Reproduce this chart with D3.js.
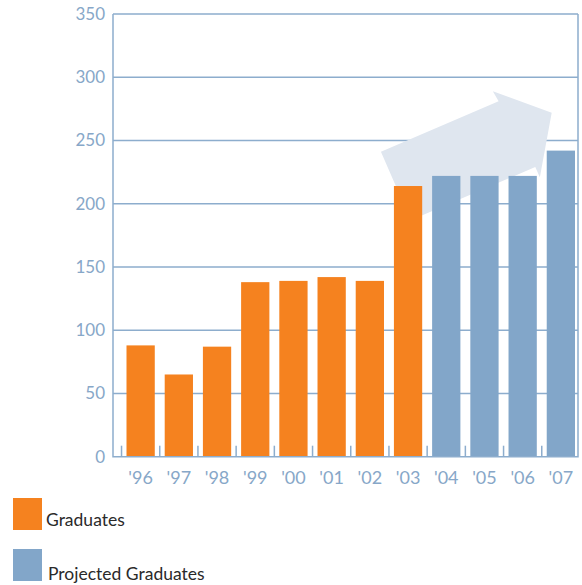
<!DOCTYPE html>
<html lang="en">
<head>
<meta charset="UTF-8"/>
<title>Graduates</title>
<script src="https://d3js.org/d3.v7.min.js"></script>
<style>
  body { margin: 0; background: #fff; }
  .grid line, .frame { stroke: #8dadcd; stroke-width: 1.5; fill: none; }
  .tickLabel { fill: #87a7c8; font-family: "Lato", sans-serif; font-size: 17px; }
  .xl { font-size: 18px; }
  .legend text { fill: #2a2a2a; font-family: "Lato", sans-serif; font-size: 17.5px; }
</style>
</head>
<body>
<div id="chart"></div>
<script>
var w = 582, h = 585;

// data
var years = ["'96", "'97", "'98", "'99", "'00", "'01", "'02", "'03", "'04", "'05", "'06", "'07"];
var values = [88, 65, 87, 138, 139, 142, 139, 214, 222, 222, 222, 242];
var projected = [false, false, false, false, false, false, false, false, true, true, true, true];
var yTicks = [0, 50, 100, 150, 200, 250, 300, 350];
var legendLabels = ["Graduates", "Projected Graduates"];
// trend arrow outline, in (band index, value) units
var arrowIdx = [6.79, 9.87, 9.72, 11.26, 10.95, 10.83, 7.57];
var arrowVal = [241, 281, 289, 272, 221, 229, 187];

var orange = "#f5821f", blue = "#82a6c9";

var x = d3.scaleBand().domain(years).range([126.5, 575]).paddingInner(0.26).paddingOuter(0);
var y = d3.scaleLinear().domain([0, 350]).range([456.7, 14]);
var left = 113, right = 578;

var svg = d3.select("#chart").append("svg").attr("width", w).attr("height", h);

// grid lines
svg.append("g").attr("class", "grid")
  .selectAll("line").data(yTicks.slice(1)).enter().append("line")
  .attr("x1", left).attr("x2", right)
  .attr("y1", function(d) { return y(d); })
  .attr("y2", function(d) { return y(d); });

// arrow behind bars
var step = x.step(), gap = x.step() - x.bandwidth();
var tick0 = x(years[0]) - gap / 2;
svg.append("polygon")
  .attr("points", arrowIdx.map(function(d, i) {
    return (tick0 + d * step) + "," + y(arrowVal[i]);
  }).join(" "))
  .attr("fill", "#dfe6ef");

// bars
svg.selectAll("rect.bar").data(values).enter().append("rect")
  .attr("class", "bar")
  .attr("x", function(d, i) { return x(years[i]); })
  .attr("y", function(d) { return y(d); })
  .attr("width", x.bandwidth())
  .attr("height", function(d) { return y(0) - y(d); })
  .attr("fill", function(d, i) { return projected[i] ? blue : orange; });

// frame: y axis, baseline, right edge
svg.append("path").attr("class", "frame")
  .attr("d", "M" + left + "," + y(350) + "V" + y(0) + "H" + right + "V" + y(350));

// small x ticks
svg.append("g").attr("class", "grid")
  .selectAll("line").data(years).enter().append("line")
  .attr("x1", function(d) { return x(d) - gap / 2; })
  .attr("x2", function(d) { return x(d) - gap / 2; })
  .attr("y1", y(0)).attr("y2", y(0) - 11);

// y labels
svg.selectAll("text.yl").data(yTicks).enter().append("text")
  .attr("class", "tickLabel")
  .attr("x", 105)
  .attr("y", function(d) { return y(d) + 6; })
  .attr("text-anchor", "end")
  .text(function(d) { return d; });

// x labels
svg.selectAll("text.xl").data(years).enter().append("text")
  .attr("class", "tickLabel xl")
  .attr("x", function(d) { return x(d) + x.bandwidth() / 2; })
  .attr("y", 484)
  .attr("text-anchor", "middle")
  .text(function(d) { return d; });

// legend
var legend = svg.append("g").attr("class", "legend");
legend.selectAll("rect").data(legendLabels).enter().append("rect")
  .attr("x", 13).attr("y", function(d, i) { return 498 + i * 51; })
  .attr("width", 29).attr("height", 32)
  .attr("fill", function(d, i) { return i ? blue : orange; });
legend.selectAll("text").data(legendLabels).enter().append("text")
  .attr("x", function(d, i) { return 46 + i * 2; })
  .attr("y", function(d, i) { return 526 + i * 54; })
  .text(function(d) { return d; });
</script>
</body>
</html>
